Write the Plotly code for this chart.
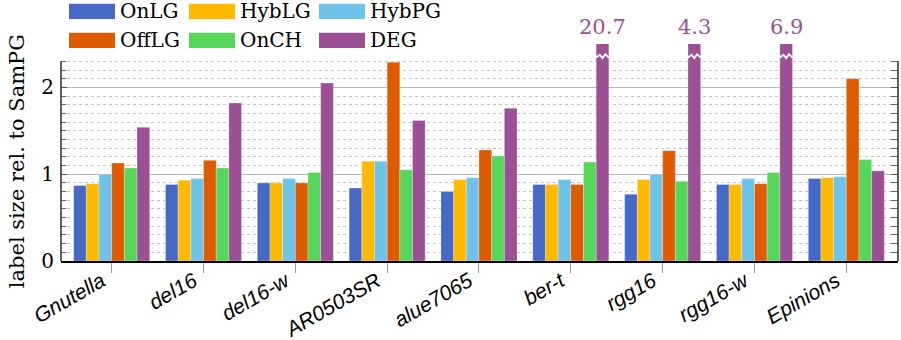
import numpy as np
import plotly.graph_objects as go

categories = ["Gnutella", "del16", "del16-w", "AR0503SR", "alue7065",
              "ber-t", "rgg16", "rgg16-w", "Epinions"]
series_names = ["OnLG", "HybLG", "HybPG", "OffLG", "OnCH", "DEG"]
onlg  = [0.87, 0.88, 0.90, 0.84, 0.80, 0.88, 0.77, 0.88, 0.95]
hyblg = [0.89, 0.93, 0.90, 1.15, 0.94, 0.88, 0.94, 0.88, 0.96]
hybpg = [1.00, 0.95, 0.95, 1.15, 0.96, 0.94, 1.00, 0.95, 0.97]
offlg = [1.13, 1.16, 0.90, 2.29, 1.28, 0.88, 1.27, 0.89, 2.10]
onch  = [1.07, 1.07, 1.02, 1.05, 1.21, 1.14, 0.92, 1.02, 1.17]
deg   = [1.54, 1.82, 2.05, 1.62, 1.76, 20.7, 4.3, 6.9, 1.04]
series_values = [onlg, hyblg, hybpg, offlg, onch, deg]
y_tick_vals = [0, 1, 2]
y_tick_text = ["0", "1", "2"]

colors = ["#4669C5", "#FFB900", "#6DC3E9", "#DE5B00", "#56D65A", "#9B4F95"]

W, H = 901, 340
L_PX, R_PX, T_PX, B_PX = 61, 898, 44.2, 260.7
Y_TOP = 2.5       # top of drawing area (broken bars are cut here)
Y_AXIS_TOP = 2.3  # where the axis lines end
BARGAP = 0.172

SERIF = "DejaVu Serif"
SANS = "Liberation Sans"

x_idx = list(range(len(categories)))
fig = go.Figure()
for name, vals, col in zip(series_names, series_values, colors):
    fig.add_trace(go.Bar(
        x=x_idx, y=vals, name=name, marker_color=col,
        marker_line=dict(color="rgba(255,255,255,0.35)", width=0.8),
        showlegend=False, hoverinfo="x+y+name"))
# empty trace so the right-hand tick axis is drawn
fig.add_trace(go.Scatter(x=[], y=[], yaxis="y2", showlegend=False, hoverinfo="skip"))

def px_to_paper_x(px):
    return (px - L_PX) / (R_PX - L_PX)

def px_to_paper_y(py):
    return (B_PX - py) / (B_PX - T_PX)

units_per_px = Y_TOP / (B_PX - T_PX)

shapes = []
annotations = []

# axis lines (end at 2.3)
for xp in (0, 1):
    shapes.append(dict(type="line", xref="paper", yref="y", x0=xp, x1=xp,
                       y0=0, y1=Y_AXIS_TOP, line=dict(color="#3a3a3a", width=1.6),
                       layer="above"))

# broken bars: white zigzag + value label
n_series = len(series_names)
bw = (1 - BARGAP) / n_series
deg_offset = (n_series - 1 - (n_series - 1) / 2) * bw
for i, v in enumerate(deg):
    if v > Y_TOP:
        xc = i + deg_offset
        x0 = xc - bw / 2
        yb = 2.355
        fr = [0, 0.28, 0.5, 0.72, 1]
        off = [-1.0, 1.8, -1.6, 2.4, -1.0]
        pts = [(x0 + f * bw, yb + o * units_per_px) for f, o in zip(fr, off)]
        path = "M " + " L ".join(f"{x:.4f},{y:.4f}" for x, y in pts)
        shapes.append(dict(type="path", xref="x", yref="y", path=path,
                           line=dict(color="white", width=1.8), layer="above"))
        annotations.append(dict(x=xc, y=px_to_paper_y(27.5), xref="x", yref="paper",
                                text=f"{v}", showarrow=False, xanchor="center",
                                yanchor="middle",
                                font=dict(family=SERIF, size=21, color=colors[5])))

# manual legend
leg_cols_x = [69, 189, 319]
leg_rows_y = [4, 33]
sw_w, sw_h = 46, 15.3
for k, (name, col) in enumerate(zip(series_names, colors)):
    r, c = divmod(k, 3)
    x0p, y0p = leg_cols_x[c], leg_rows_y[r]
    shapes.append(dict(type="rect", xref="paper", yref="paper",
                       x0=px_to_paper_x(x0p), x1=px_to_paper_x(x0p + sw_w),
                       y0=px_to_paper_y(y0p + sw_h), y1=px_to_paper_y(y0p),
                       fillcolor=col, line=dict(width=0), layer="above"))
    annotations.append(dict(x=px_to_paper_x(x0p + sw_w + 3), y=px_to_paper_y(y0p + sw_h / 2),
                            xref="paper", yref="paper", text=name, showarrow=False,
                            xanchor="left", yanchor="middle",
                            font=dict(family=SERIF, size=20, color="black")))

# y axis title
annotations.append(dict(x=px_to_paper_x(17), y=Y_AXIS_TOP / 2, xref="paper", yref="y",
                        text="label size rel. to SamPG", textangle=-90, showarrow=False,
                        xanchor="center", yanchor="middle",
                        font=dict(family=SERIF, size=21, color="black")))

minor_vals = [round(v, 1) for v in np.arange(0.1, Y_AXIS_TOP + 0.001, 0.1)
              if abs(v - round(v)) > 1e-6]

fig.update_layout(
    width=W, height=H,
    margin=dict(l=L_PX, r=W - R_PX, t=T_PX, b=H - B_PX, pad=0, autoexpand=False),
    paper_bgcolor="white", plot_bgcolor="white",
    barmode="group", bargap=BARGAP, bargroupgap=0,
    shapes=shapes, annotations=annotations,
    xaxis=dict(range=[-0.552, 8.563], tickmode="array", tickvals=x_idx,
               ticktext=categories, tickangle=-30, ticks="outside", ticklen=10,
               tickcolor="#999999", tickwidth=1.3, showgrid=False, zeroline=False,
               showline=True, linecolor="black", linewidth=1.6, automargin=False,
               ticklabelshift=-10, ticklabelstandoff=-12,
               tickfont=dict(family=SANS, size=21, color="black", style="italic")),
    yaxis=dict(range=[0, Y_TOP], tickmode="array", tickvals=y_tick_vals,
               ticktext=y_tick_text, ticks="inside", ticklen=6, tickcolor="#555555",
               tickwidth=1.2, showgrid=True, gridcolor="#b8b8b8", gridwidth=1.4,
               zeroline=False, showline=False, ticklabelstandoff=6, automargin=False,
               tickfont=dict(family=SERIF, size=20, color="black"),
               minor=dict(tickmode="array", tickvals=minor_vals, ticks="inside",
                          ticklen=5, tickcolor="#666666", tickwidth=1,
                          showgrid=True, gridcolor="#c4c4c4", griddash="dot",
                          gridwidth=1)),
    yaxis2=dict(range=[0, Y_TOP], overlaying="y", side="right", anchor="x",
                tickmode="array", tickvals=y_tick_vals, ticks="inside", ticklen=7,
                tickcolor="#555555", tickwidth=1.2, showticklabels=False,
                showgrid=False, zeroline=False, showline=False, automargin=False,
                minor=dict(tickmode="array", tickvals=minor_vals, ticks="inside",
                           ticklen=7, tickcolor="#666666", tickwidth=1,
                           showgrid=False)),
)

fig.write_html("out.html", config={"displayModeBar": False},
               post_script="document.body.style.margin='0';"
                           "document.body.style.overflow='hidden';")
